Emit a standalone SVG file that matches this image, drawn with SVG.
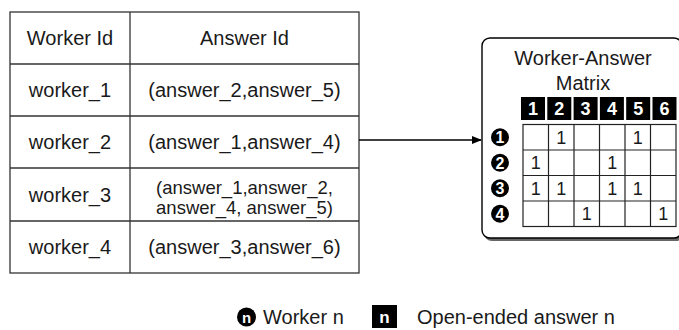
<svg xmlns="http://www.w3.org/2000/svg" width="679" height="330" viewBox="0 0 679 330">
<defs>
<style>
text{font-family:"Liberation Sans",Arial,Helvetica,sans-serif;fill:#1a1a1a}
.t{font-size:20px;text-anchor:middle}
.t2{font-size:18.5px;text-anchor:middle}
.c{font-size:18px;text-anchor:middle}
.w{fill:#fff;font-weight:bold;text-anchor:middle}
.tl{fill:none;stroke:#333;stroke-width:1.3}
.g{fill:none;stroke:#222;stroke-width:1.2}
</style>
<marker id="ah" viewBox="0 0 10 10" refX="9" refY="5" markerWidth="10" markerHeight="10" markerUnits="userSpaceOnUse" orient="auto">
<path d="M0,1 L10,5 L0,9 Z" fill="#000"/>
</marker>
</defs>
<rect width="679" height="330" fill="#fff"/>

<g id="table">
<rect class="tl" x="10" y="12" width="349" height="261"/>
<line class="tl" x1="130" y1="12" x2="130" y2="273"/>
<line class="tl" x1="10" y1="64" x2="359" y2="64"/>
<line class="tl" x1="10" y1="116" x2="359" y2="116"/>
<line class="tl" x1="10" y1="168" x2="359" y2="168"/>
<line class="tl" x1="10" y1="221" x2="359" y2="221"/>
<text class="t" x="70" y="45">Worker Id</text>
<text class="t" x="244.5" y="45">Answer Id</text>
<text class="t" x="70" y="97">worker_1</text>
<text class="t" x="244.5" y="97">(answer_2,answer_5)</text>
<text class="t" x="70" y="149">worker_2</text>
<text class="t" x="244.5" y="149">(answer_1,answer_4)</text>
<text class="t" x="70" y="202">worker_3</text>
<text class="t2" x="244.5" y="194">(answer_1,answer_2,</text>
<text class="t2" x="244.5" y="214">answer_4, answer_5)</text>
<text class="t" x="70" y="254">worker_4</text>
<text class="t" x="244.5" y="254">(answer_3,answer_6)</text>
</g>

<g id="connectors">
<line x1="359" y1="140" x2="481" y2="140" stroke="#000" stroke-width="1.3" marker-end="url(#ah)"/>
</g>

<g id="matrix">
<rect x="484" y="41" width="200" height="200" rx="8" fill="#666"/>
<rect x="482" y="38" width="200" height="200" rx="8" fill="#fff" stroke="#000" stroke-width="1.4"/>
<text class="t" x="583" y="65">Worker-Answer</text>
<text class="t" x="583" y="90">Matrix</text>
<g id="col-headers">
<rect x="521" y="97" width="24" height="23" fill="#000"/>
<rect x="547.3" y="97" width="24" height="23" fill="#000"/>
<rect x="573.6" y="97" width="24" height="23" fill="#000"/>
<rect x="599.9" y="97" width="24" height="23" fill="#000"/>
<rect x="626.2" y="97" width="24" height="23" fill="#000"/>
<rect x="652.5" y="97" width="24" height="23" fill="#000"/>
<text class="w" font-size="18" x="533" y="115">1</text>
<text class="w" font-size="18" x="559.3" y="115">2</text>
<text class="w" font-size="18" x="585.6" y="115">3</text>
<text class="w" font-size="18" x="611.9" y="115">4</text>
<text class="w" font-size="18" x="638.2" y="115">5</text>
<text class="w" font-size="18" x="664.5" y="115">6</text>
</g>
<g id="row-headers">
<circle cx="500" cy="137.25" r="9" fill="#000"/>
<circle cx="500" cy="162.75" r="9" fill="#000"/>
<circle cx="500" cy="188.25" r="9" fill="#000"/>
<circle cx="500" cy="213.75" r="9" fill="#000"/>
<text class="w" font-size="16" x="500" y="143">1</text>
<text class="w" font-size="16" x="500" y="168.5">2</text>
<text class="w" font-size="16" x="500" y="194">3</text>
<text class="w" font-size="16" x="500" y="219.5">4</text>
</g>
<g id="grid">
<rect class="g" x="523" y="124.5" width="153" height="102"/>
<line class="g" x1="548.5" y1="124.5" x2="548.5" y2="226.5"/>
<line class="g" x1="574" y1="124.5" x2="574" y2="226.5"/>
<line class="g" x1="599.5" y1="124.5" x2="599.5" y2="226.5"/>
<line class="g" x1="625" y1="124.5" x2="625" y2="226.5"/>
<line class="g" x1="650.5" y1="124.5" x2="650.5" y2="226.5"/>
<line class="g" x1="523" y1="150" x2="676" y2="150"/>
<line class="g" x1="523" y1="175.5" x2="676" y2="175.5"/>
<line class="g" x1="523" y1="201" x2="676" y2="201"/>
<text class="c" x="561.25" y="143.5">1</text>
<text class="c" x="637.75" y="143.5">1</text>
<text class="c" x="535.75" y="169">1</text>
<text class="c" x="612.25" y="169">1</text>
<text class="c" x="535.75" y="194.5">1</text>
<text class="c" x="561.25" y="194.5">1</text>
<text class="c" x="612.25" y="194.5">1</text>
<text class="c" x="637.75" y="194.5">1</text>
<text class="c" x="586.75" y="220">1</text>
<text class="c" x="663.25" y="220">1</text>
</g>
</g>

<g id="legend">
<circle cx="246.5" cy="317" r="9.5" fill="#000"/>
<text class="w" font-size="15" x="246.5" y="322.5">n</text>
<text x="263" y="324" font-size="20">Worker n</text>
<rect x="372" y="305" width="25" height="23" fill="#000"/>
<text class="w" font-size="17" x="384.5" y="323">n</text>
<text x="417" y="324" font-size="20">Open-ended answer n</text>
</g>
</svg>
